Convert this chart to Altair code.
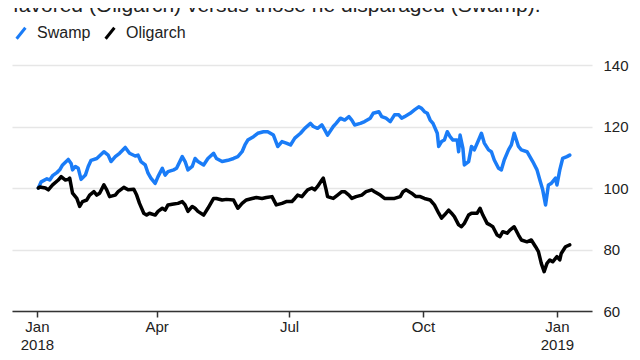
import json
import pandas as pd
import altair as alt

title_text = "favored (Oligarch) versus those he disparaged (Swamp)."
series_names = ["Swamp", "Oligarch"]
series_colors = ["#1a7cf7", "#000000"]

# days since 2018-01-01
swamp_days = [1, 3, 7, 9, 11, 14, 16, 18, 22, 24, 25, 27, 29, 31, 34, 36, 38, 42, 47, 50, 52, 55, 58, 62, 65, 69, 71,
              73, 76, 78, 80, 83, 85, 88, 90, 92, 96, 98, 102, 104, 106, 109, 111, 113, 117, 120, 124, 126, 130, 134,
              138, 141, 144, 146, 148, 152, 155, 159, 162, 166, 169, 172, 175, 178, 181, 185, 188, 192, 194, 197, 200,
              202, 204, 208, 210, 213, 216, 219, 221, 223, 227, 230, 234, 236, 240, 242, 245, 248, 251, 254, 256, 258,
              262, 265, 268, 270, 272, 274, 276, 278, 281, 282, 284, 286, 288, 290, 292, 295, 296, 297, 299, 300, 303,
              305, 307, 310, 312, 314, 317, 319, 321, 324, 326, 328, 331, 333, 335, 338, 340, 344, 346, 348, 351, 353,
              355, 357, 359, 361, 364, 365, 367, 369, 372, 374]
swamp_values = [100, 102, 103, 102.6, 104, 105, 105.9, 107.5, 109.3, 108, 105.9, 107, 106.4, 102.8, 104.2, 107, 109,
                109.6, 111.8, 110.7, 108.6, 110.2, 111.3, 113.2, 111.3, 110.4, 110.7, 108.6, 107.5, 104.8, 103.2,
                101.5, 103.7, 106.4, 104.2, 105.3, 105.9, 106.4, 110.2, 108.6, 105.9, 107, 109.6, 108.6, 107.5, 109.6,
                111.3, 109.6, 108.6, 109, 109.6, 110.2, 111.8, 114, 115.6, 116.7, 117.8, 118.3, 118.3, 117.2, 113.5,
                115.1, 114.6, 114, 116.2, 117.8, 119.4, 121, 120, 119.4, 120.5, 118.9, 117.2, 120, 121, 122.7, 122.1,
                123.2, 122.1, 120.5, 121, 121.6, 122.7, 124.3, 124.8, 123.2, 122.7, 121.6, 123.8, 123.8, 122.7, 123.2,
                124.3, 125.4, 126.4, 125.9, 124.8, 124.3, 122.1, 121, 117.8, 113.5, 115.1, 115.6, 118.3, 116.7, 115.6,
                115.6, 111.8, 117.2, 112.9, 107.5, 108.6, 113.5, 112.4, 115.6, 117.8, 114.6, 112.4, 111.8, 109.1,
                106.4, 105.9, 109.1, 112.4, 114, 117.8, 113.5, 112.4, 111.8, 110.2, 108.6, 105.9, 102.6, 99.4, 94.5,
                101, 101.5, 103.2, 101, 105.9, 109.6, 110.2, 110.7]

oligarch_days = [1, 2, 6, 8, 11, 15, 17, 20, 22, 23, 25, 28, 30, 32, 35, 37, 40, 42, 44, 47, 49, 51, 55, 57, 61, 64, 68,
                 70, 72, 75, 77, 79, 83, 85, 88, 90, 92, 96, 99, 102, 104, 106, 109, 111, 113, 117, 120, 124, 126, 130,
                 133, 138, 141, 144, 147, 151, 154, 158, 161, 165, 168, 172, 175, 179, 181, 183, 186, 188, 190, 193,
                 195, 197, 200, 201, 203, 204, 208, 211, 214, 216, 219, 221, 224, 228, 231, 235, 237, 241, 244, 248,
                 251, 255, 257, 259, 263, 266, 269, 272, 276, 279, 282, 284, 286, 289, 291, 293, 296, 298, 300, 303,
                 305, 309, 311, 313, 316, 318, 320, 323, 325, 327, 330, 332, 335, 338, 340, 344, 347, 350, 352, 354,
                 356, 358, 360, 362, 365, 367, 368, 371, 374]
oligarch_values = [100, 100.3, 100, 99.4, 101, 102.6, 103.7, 102.6, 102.8, 103.2, 98.3, 96.6, 94, 95.6, 96.1, 97.7,
                   98.8, 97.7, 98.3, 101, 99.4, 97.2, 97.7, 98.8, 100.2, 99.4, 99.6, 97.7, 95, 91.8, 91.2, 91.8, 91.2,
                   92.4, 93.4, 92.8, 94.5, 94.8, 95, 95.6, 94.5, 92.4, 94, 93.4, 92.4, 91.2, 93.4, 96.6, 96.6, 96.1,
                   96.3, 96.1, 93.4, 95, 96.1, 96.6, 96.9, 96.6, 96.9, 97.2, 94.5, 95, 95.6, 95.6, 96.6, 97.7, 97.2,
                   98.3, 99.4, 100, 99.4, 100.5, 102.6, 103.2, 99.4, 97.2, 96.6, 97.7, 98.8, 98.8, 97.7, 96.6, 97.2,
                   97.7, 98.8, 99.4, 98.8, 97.7, 96.6, 96.6, 96.6, 97.2, 98.8, 99.4, 98.3, 97.2, 97.2, 96.6, 96.1,
                   94.5, 91.8, 90.2, 91.2, 92.8, 91.8, 90.7, 88, 87.4, 88.5, 91.2, 91.8, 91.8, 93.4, 91.2, 88.5, 88,
                   87.4, 84.7, 84.2, 85.8, 85.3, 86.3, 87.4, 84.7, 83.1, 82.5, 83.1, 80.9, 79.3, 75.5, 72.8, 75.5,
                   76.6, 76, 77.7, 76.6, 78.7, 80.9, 81.5]

tick_dates = ["2018-01-01", "2018-03-26", "2018-06-27", "2018-09-29", "2019-01-01"]
tick_labels = [["Jan", "2018"], "Apr", "Jul", "Oct", ["Jan", "2019"]]
y_ticks = [60, 80, 100, 120, 140]
x_domain_days = [-17.5, 389.6]

BASE = pd.Timestamp("2018-01-01", tz="UTC")
DAY_MS = 86400000
base_ms = int(BASE.value // 1_000_000)


def to_ms(days):
    return [int(base_ms + d * DAY_MS) for d in days]


df = pd.concat([
    pd.DataFrame({"date": to_ms(swamp_days), "value": swamp_values, "series": "Swamp"}),
    pd.DataFrame({"date": to_ms(oligarch_days), "value": oligarch_values, "series": "Oligarch"}),
])

tick_ms = [int(pd.Timestamp(d, tz="UTC").value // 1_000_000) for d in tick_dates]
label_expr = "".join(f"time(datum.value) == {ms} ? {json.dumps(lab)} : " for ms, lab in zip(tick_ms, tick_labels)) + "''"

FONT = "Liberation Sans"

lines = alt.Chart(df).mark_line(strokeWidth=3.5, strokeJoin="round", strokeCap="round").encode(
    x=alt.X("date:T",
            scale=alt.Scale(type="utc", domain=to_ms(x_domain_days)),
            axis=alt.Axis(title=None, values=tick_ms, labelExpr=label_expr, grid=False,
                          domainColor="#333333", domainWidth=1.5, tickColor="#333333", tickWidth=1.5,
                          tickSize=6, labelPadding=2, labelFontSize=15, labelLineHeight=18,
                          labelColor="#222222", labelFont=FONT, labelAlign="center")),
    y=alt.Y("value:Q",
            scale=alt.Scale(domain=[60, 140], nice=False, zero=False),
            axis=alt.Axis(title=None, orient="right", values=y_ticks, domain=False, ticks=False,
                          grid=True, gridColor="#e6e6e6", gridWidth=1.5, labelPadding=11,
                          labelFontSize=15, labelColor="#222222", labelFont=FONT)),
    color=alt.Color("series:N",
                    scale=alt.Scale(domain=series_names, range=series_colors),
                    legend=alt.Legend(title=None, orient="none", legendX=1, legendY=-40,
                                      direction="horizontal", symbolType="M-0.8,1L0.8,-1",
                                      symbolSize=121, symbolStrokeWidth=3, labelFontSize=16,
                                      labelOffset=8, columnPadding=8, padding=0,
                                      labelFont=FONT, labelColor="#222222")),
    detail="series:N",
)

title_df = pd.DataFrame({"t": [title_text]})
title = alt.Chart(title_df).mark_text(align="left", baseline="alphabetic", fontSize=21,
                                       font=FONT, color="#222222").encode(
    x=alt.value(1), y=alt.value(-53), text="t:N")

chart = alt.layer(lines, title).properties(
    width=580, height=246,
    autosize=alt.AutoSizeParams(type="none"),
    padding={"left": 4, "top": 57, "right": 40, "bottom": 41},
).configure_view(stroke=None)

chart.save("out.html", embed_options={"renderer": "svg", "actions": False})
